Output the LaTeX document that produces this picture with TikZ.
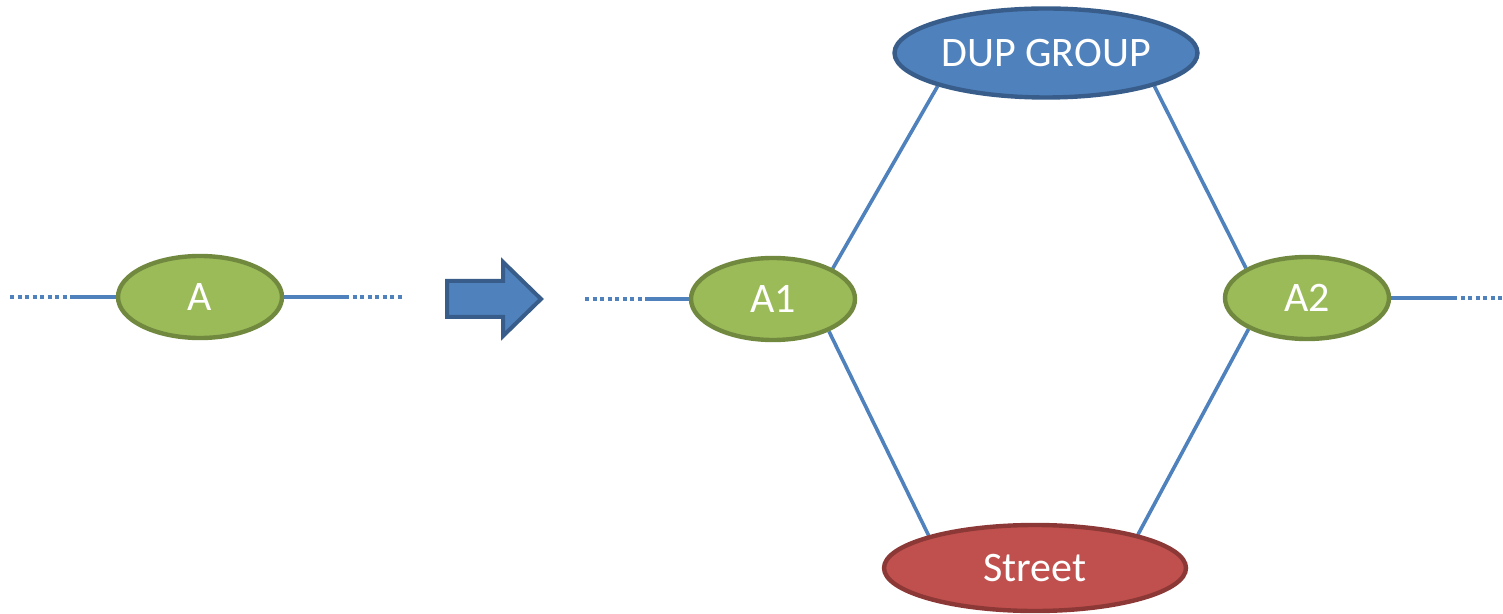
\documentclass[tikz,border=0pt]{standalone}
\usepackage{fontspec}
\setmainfont{Carlito}
\usepackage{tikz}
\usetikzlibrary{backgrounds,shapes.geometric}
\definecolor{leafgreen}{HTML}{9BBB59}
\definecolor{leafedge}{HTML}{71893F}
\definecolor{dupblue}{HTML}{4F81BD}
\definecolor{dupedge}{HTML}{385D8A}
\definecolor{streetred}{HTML}{C0504D}
\definecolor{streetedge}{HTML}{8C3836}
\tikzset{
    oval/.style={ellipse,draw,line width=2.2pt,inner sep=0pt,text=white,font=\fontsize{21}{25}\selectfont},
    router/.style={oval,fill=leafgreen,draw=leafedge,minimum width=82pt,minimum height=41pt},
    dup/.style={oval,fill=dupblue,draw=dupedge,minimum width=151.5pt,minimum height=44.5pt},
    street/.style={oval,fill=streetred,draw=streetedge,minimum width=151pt,minimum height=43pt},
    link/.style={draw=dupblue,line width=1.8pt},
    cont/.style={link,dash pattern=on 2pt off 1.75pt},
    bigarrow/.style={fill=dupblue,draw=dupedge,line width=2pt,line join=miter},
}

\begin{document}
\begin{tikzpicture}[x=0.5pt,y=-0.5pt]
		\useasboundingbox (0,0) rectangle (1503,614);

		% before
		\node[router] (a) at (200,297) {A};
		\coordinate (aLend) at (10,297);
		\coordinate (aL) at (70,297);
		\coordinate (aR) at (345,297);
		\coordinate (aRend) at (402,297);

		% arrow
		\draw[bigarrow] (447,281) -- (503,281) -- (503,262) -- (541,299)
			-- (503,336) -- (503,317) -- (447,317) -- cycle;

		% after
		\node[router] (a1) at (773,299) {A1};
		\node[router] (a2) at (1307,298) {A2};
		\node[dup] (dupgrp) at (1046,53) {DUP GROUP};
		\node[street] (str) at (1035,568) {Street};
		\coordinate (a1Lend) at (585,299);
		\coordinate (a1L) at (645,299);
		\coordinate (a2R) at (1453,298);
		\coordinate (a2Rend) at (1503,298);

		\begin{scope}[on background layer]
			\draw[cont] (aLend) -- (aL);
			\draw[link] (aL) -- (a.west);
			\draw[link] (a.east) -- (aR);
			\draw[cont] (aR) -- (aRend);

			\draw[cont] (a1Lend) -- (a1L);
			\draw[link] (a1L) -- (a1.west);
			\draw[link] (a2.east) -- (a2R);
			\draw[cont] (a2R) -- (a2Rend);

			\draw[link] (a1.27) -- (dupgrp.197);
			\draw[link] (dupgrp.343) -- (a2.154);
			\draw[link] (a1.330) -- (str.163);
			\draw[link] (a2.208) -- (str.18);
		\end{scope}
	\end{tikzpicture}
\end{document}
